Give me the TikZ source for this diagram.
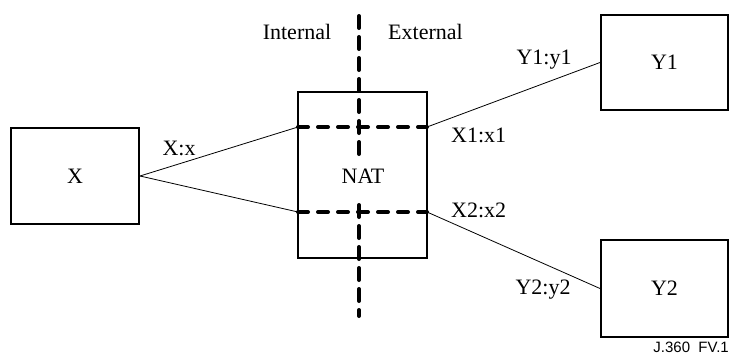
\documentclass[tikz,border=0pt]{standalone}
\usepackage{fontspec}
\setmainfont{Liberation Serif}
\newfontfamily\labelsans{Liberation Sans}
\begin{document}
\begin{tikzpicture}[x=1pt,y=-1pt,
  box/.style={draw, line width=2pt, inner sep=0pt, font=\fontsize{22}{26}\selectfont},
  conn/.style={line width=0.8pt},
  dashline/.style={line width=4pt, line cap=round, dash pattern=on 12pt off 9pt},
  lbl/.style={inner sep=0pt, font=\fontsize{22}{26}\selectfont}]
\useasboundingbox (0,0) rectangle (730,356);
% boxes
\node[box, minimum width=128pt, minimum height=96pt] (X) at (75,176) {X};
\node[box, minimum width=129pt, minimum height=166pt] (NAT) at (362.5,175) {};
\node[box, minimum width=127pt, minimum height=95pt] (Y1) at (664.5,62.5) {Y1};
\node[box, minimum width=127pt, minimum height=97pt] (Y2) at (664.5,288.5) {Y2};
% coordinates
\coordinate (h1w) at (298,127);
\coordinate (h1e) at (427,127);
\coordinate (h2w) at (298,212);
\coordinate (h2e) at (427,212);
\coordinate (vt) at (359,16);
\coordinate (vb) at (359,316);
% dashed lines
\draw[dashline] (vt) -- (vb);
\draw[dashline, dash pattern=on 10pt off 10pt] (h1w) -- (h1e);
\draw[dashline, dash pattern=on 10pt off 10pt] (h2w) -- (h2e);
\node[fill=white, minimum width=30pt, minimum height=43pt, inner sep=0pt] (natbg) at (362,178.5) {};
\node[lbl] (natl) at (363,176) {NAT};
% connectors
\draw[conn] (X.east) -- (h1w);
\draw[conn] (X.east) -- (h2w);
\draw[conn] (h1e) -- (Y1.west);
\draw[conn] (h2e) -- (Y2.west);
% labels
\node[lbl] (internal) at (297,32) {Internal};
\node[lbl, anchor=west] (external) at (388,32) {External};
\node[lbl] (xx) at (179,148) {X:x};
\node[lbl, anchor=west] (x1) at (451,135) {X1:x1};
\node[lbl, anchor=west] (x2) at (451,210) {X2:x2};
\node[lbl] (y1) at (544,60) {Y1:y1};
\node[lbl] (y2) at (543,290) {Y2:y2};
\node[inner sep=0pt, anchor=east, font=\labelsans\fontsize{15}{17}\selectfont] (fig) at (729,347) {J.360\ \ FV.1};
\end{tikzpicture}
\end{document}
